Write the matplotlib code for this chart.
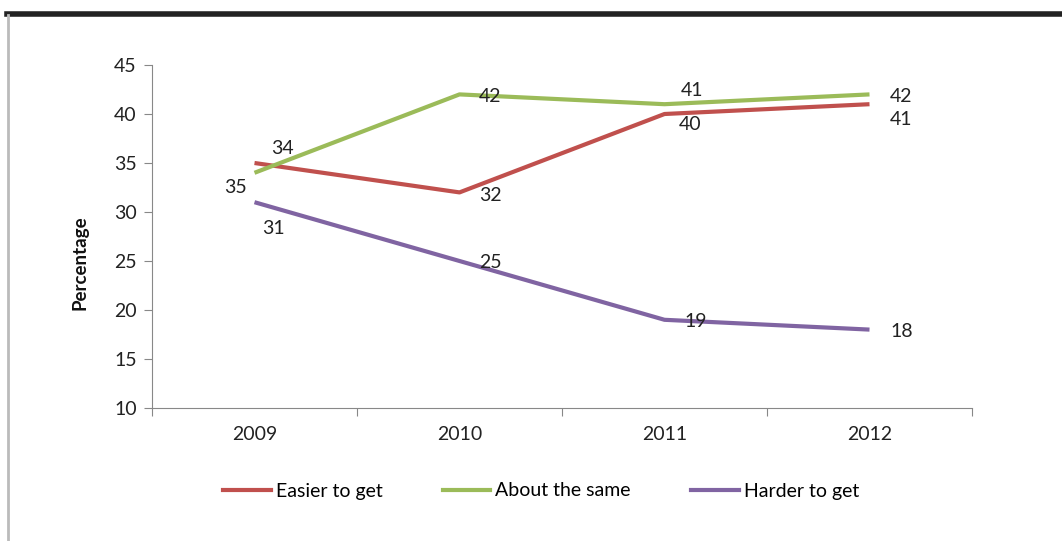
import numpy as np
import matplotlib
matplotlib.use("Agg")
import matplotlib.pyplot as plt
from matplotlib.lines import Line2D

years = ["2009", "2010", "2011", "2012"]
easier = [35, 32, 40, 41]
same = [34, 42, 41, 42]
harder = [31, 25, 19, 18]
series_names = ["Easier to get", "About the same", "Harder to get"]
colors = ["#C0504D", "#9BBB59", "#8064A2"]

# label offsets in pixels (dx, dy) per series per point
offsets = [
    [(-19, -24), (31, -3), (26, -10), (32, -15)],
    [(28, 24), (31, -2), (28, 14), (32, -2)],
    [(19, -26), (31, -2), (31, -2), (32, -2)],
]

plt.rcParams['font.family'] = ['Lato', 'DejaVu Sans']
fig = plt.figure(figsize=(10.62, 5.41), dpi=100)
ax = fig.add_axes([152/1062, 1-408/541, 820/1062, 343/541])

x = np.arange(len(years))
data = [easier, same, harder]
for vals, col, offs in zip(data, colors, offsets):
    ax.plot(x, vals, color=col, lw=3, solid_capstyle='butt')
    for xi, v, (dx, dy) in zip(x, vals, offs):
        ax.annotate(str(v), (xi, v), xytext=(dx*0.72, dy*0.72), textcoords='offset points',
                    ha='center', va='center', fontsize=14, color='#222222')

ax.set_xlim(-0.5, 3.5)
ax.set_ylim(10, 45)
ax.set_yticks(np.arange(10, 46, 5))
ax.set_xticks(np.arange(-0.5, 3.6, 1))
ax.set_xticklabels([])
ax.set_xticks(x, minor=True)
ax.set_xticklabels(years, minor=True)
ax.tick_params(axis='x', which='minor', length=0, pad=13, labelsize=14, labelcolor='#222222')
ax.tick_params(axis='x', which='major', length=6, color='#888888')
ax.tick_params(axis='y', length=6, color='#888888', labelsize=14, labelcolor='#222222', pad=5)
for s in ['top', 'right']:
    ax.spines[s].set_visible(False)
for s in ['left', 'bottom']:
    ax.spines[s].set_color('#888888')
fig.text(80/1062, 1-263/541, "Percentage", rotation=90, ha='center', va='center',
         fontsize=13.5, fontweight='bold', color='#111111')

handles = [Line2D([], [], color=c, lw=3) for c in colors]
fig.legend(handles, series_names, loc='center', bbox_to_anchor=(541/1062, 1-491/541), ncol=3,
           frameon=False, fontsize=14, handlelength=2.45, handletextpad=0.25, columnspacing=3.1)

# frame decorations
fig.add_artist(Line2D([7/1062, 1], [1-14/541, 1-14/541], color='#222222', lw=4))
fig.add_artist(Line2D([8/1062, 8/1062], [0, 1-15/541], color='#BBBBBB', lw=2))

fig.savefig("out.png", dpi=100)
